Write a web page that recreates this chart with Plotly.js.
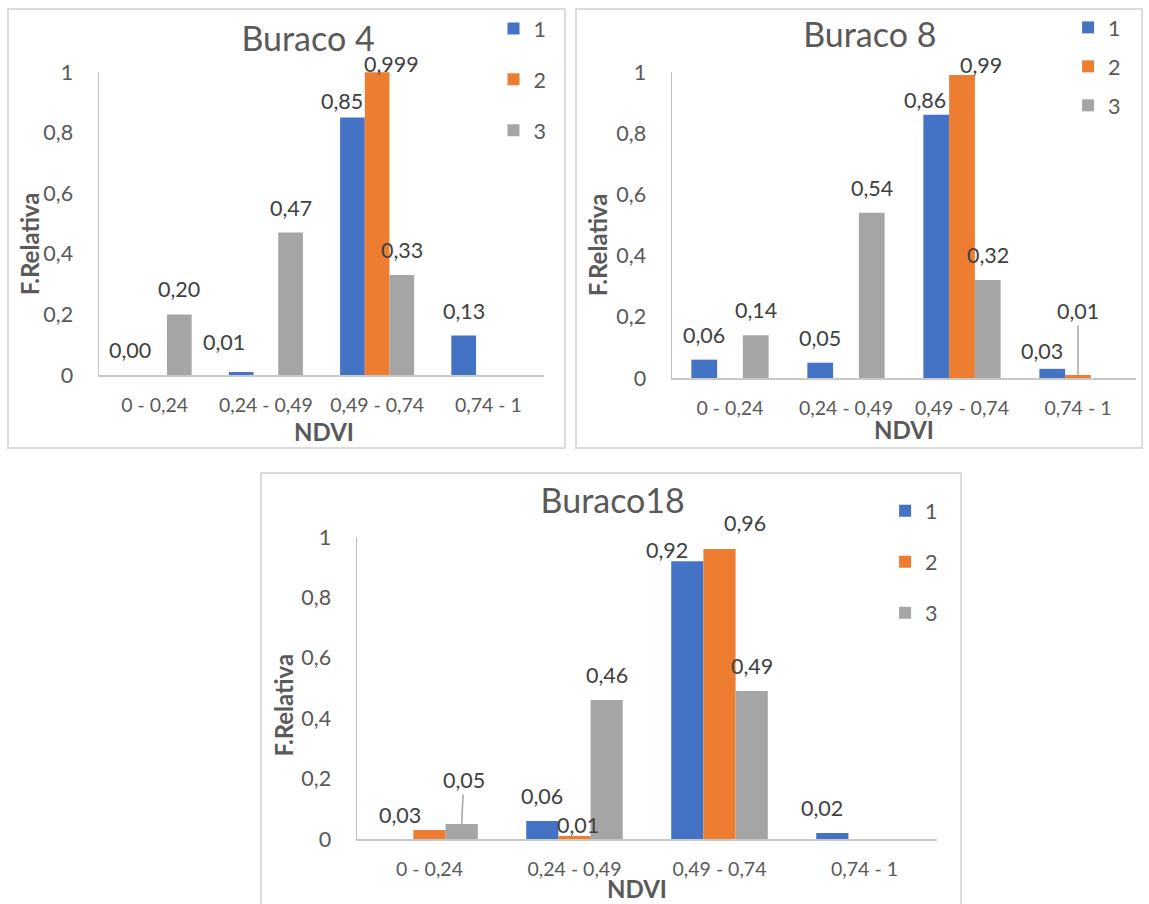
<!DOCTYPE html>
<html><head><meta charset="utf-8">
<script src="https://cdn.plot.ly/plotly-3.0.1.min.js"></script>
<style>
html,body{margin:0;padding:0;background:#fff;width:1149px;height:904px;overflow:hidden;position:relative}
.chart{position:absolute}
.frame{position:absolute;border:2px solid #dcdcdc;box-sizing:border-box;pointer-events:none}
</style></head><body>
<div id="c1" class="chart"></div>
<div id="c2" class="chart"></div>
<div id="c3" class="chart"></div>
<script>
// ---- data ----
const categories = ['0 - 0,24', '0,24 - 0,49', '0,49 - 0,74', '0,74 - 1'];
const seriesNames = ['1', '2', '3'];
const yTickValues = [0, 0.2, 0.4, 0.6, 0.8, 1];

const buraco4_s1 = [0.00, 0.01, 0.85, 0.13];
const buraco4_s2 = [null, null, 0.999, null];
const buraco4_s3 = [0.20, 0.47, 0.33, null];

const buraco8_s1 = [0.06, 0.05, 0.86, 0.03];
const buraco8_s2 = [null, null, 0.99, 0.01];
const buraco8_s3 = [0.14, 0.54, 0.32, null];

const buraco18_s1 = [null, 0.06, 0.92, 0.02];
const buraco18_s2 = [0.03, 0.01, 0.96, null];
const buraco18_s3 = [0.05, 0.46, 0.49, null];

// ---- style ----
const colors = ['#4472C4', '#ED7D31', '#A5A5A5'];
const FONT = 'Lato, "Open Sans", sans-serif';
const TXT = '#595959';
const LBL = '#404040';
const BARGAP = 0.334;

const panels = [
  { id: 'c1', title: 'Buraco 4', series: [buraco4_s1, buraco4_s2, buraco4_s3],
    box: {left: 7, top: 8, w: 559, h: 441}, plot: {l: 99, r: 544, t: 72, b: 374.6},
    titlePos: [308, 39.5], yTitlePos: [29, 244], xTitlePos: [323.8, 431],
    legend: {mx: 514.5, y0: 30, gap: 20},
    nudges: {'0,1': [-17, 30], '0,2': [-10, 16], '1,2': [14.5, 8]}, leaders: {} },
  { id: 'c2', title: 'Buraco 8', series: [buraco8_s1, buraco8_s2, buraco8_s3],
    box: {left: 575, top: 8, w: 568, h: 441}, plot: {l: 671.5, r: 1136, t: 71.7, b: 378.3},
    titlePos: [869.8, 35], yTitlePos: [597.7, 245], xTitlePos: [904.2, 430],
    legend: {mx: 1089, y0: 28.5, gap: 8},
    nudges: {'0,2': [-11, 14.5], '1,2': [19, 9.7], '0,3': [-10.7, 17.4], '1,3': [0, 64]},
    leaders: {'1,3': true} },
  { id: 'c3', title: 'Buraco18', series: [buraco18_s1, buraco18_s2, buraco18_s3],
    box: {left: 260, top: 472, w: 702, h: 440}, plot: {l: 356.9, r: 936.9, t: 537.3, b: 839},
    titlePos: [612.7, 500.7], yTitlePos: [283.6, 705], xTitlePos: [637, 888],
    legend: {mx: 906, y0: 512.7, gap: 20},
    nudges: {'1,0': [-30, 15], '2,0': [2, 44], '1,1': [3, 11], '0,2': [-20, 11], '1,2': [25, 26], '0,3': [-10, 25]},
    leaders: {'2,0': true} }
];

function fmt(v) {
  let s = v.toFixed(3);
  if (s.endsWith('0')) s = s.slice(0, -1);
  return s.replace('.', ',');
}

panels.forEach(p => {
  const el = document.getElementById(p.id);
  el.style.left = p.box.left + 'px';
  el.style.top = p.box.top + 'px';
  el.style.width = p.box.w + 'px';
  el.style.height = p.box.h + 'px';
  const fr = document.createElement('div');
  fr.className = 'frame';
  fr.style.left = p.box.left + 'px';
  fr.style.top = p.box.top + 'px';
  fr.style.width = p.box.w + 'px';
  fr.style.height = p.box.h + 'px';
  document.body.appendChild(fr);

  const pw = p.plot.r - p.plot.l, ph = p.plot.b - p.plot.t;
  const px = X => (X - p.plot.l) / pw;
  const py = Y => (p.plot.b - Y) / ph;
  const bw = (1 - BARGAP) / 3;

  const traces = p.series.map((vals, i) => ({
    type: 'bar', name: seriesNames[i], x: categories, y: vals,
    marker: {color: colors[i], line: {width: 0}},
    legendgroup: 'g' + i, hoverinfo: 'skip'
  }));

  const annotations = [];
  p.series.forEach((vals, i) => {
    vals.forEach((v, j) => {
      if (v === null) return;
      const key = i + ',' + j;
      const n = p.nudges[key] || [0, 25];
      const base = {x: j + (i - 1) * bw, y: v, xref: 'x', yref: 'y', text: fmt(v),
        font: {family: FONT, size: 21.5, color: LBL}};
      if (p.leaders[key]) {
        annotations.push(Object.assign(base, {showarrow: true, arrowhead: 0, arrowwidth: 1.5,
          arrowcolor: '#A6A6A6', ax: n[0], ay: -n[1], standoff: 0}));
      } else {
        annotations.push(Object.assign(base, {showarrow: false, xshift: n[0], yshift: n[1],
          xanchor: 'center', yanchor: 'middle'}));
      }
    });
  });
  annotations.push({xref: 'paper', yref: 'paper', x: px(p.yTitlePos[0]), y: py(p.yTitlePos[1]),
    text: '<b>F.Relativa</b>', textangle: -90, showarrow: false, xanchor: 'center', yanchor: 'middle',
    font: {family: FONT, size: 24, color: TXT}});
  annotations.push({xref: 'paper', yref: 'paper', x: px(p.xTitlePos[0]), y: py(p.xTitlePos[1]),
    text: '<b>NDVI</b>', showarrow: false, xanchor: 'center', yanchor: 'middle',
    font: {family: FONT, size: 24, color: TXT}});

  const layout = {
    width: p.box.w, height: p.box.h,
    margin: {l: p.plot.l - p.box.left, r: p.box.left + p.box.w - p.plot.r,
             t: p.plot.t - p.box.top, b: p.box.top + p.box.h - p.plot.b, pad: 0, autoexpand: false},
    paper_bgcolor: 'rgba(0,0,0,0)', plot_bgcolor: 'rgba(0,0,0,0)',
    separators: ',.',
    font: {family: FONT, color: TXT},
    title: {text: p.title, xref: 'container', yref: 'container',
      x: (p.titlePos[0] - p.box.left) / p.box.w, y: 1 - (p.titlePos[1] - p.box.top) / p.box.h,
      xanchor: 'center', yanchor: 'middle', font: {family: FONT, size: 34, color: TXT}},
    barmode: 'group', bargap: BARGAP, bargroupgap: 0,
    xaxis: {type: 'category', range: [-0.5, 3.5], showline: true, linecolor: '#C8C8C8', linewidth: 1.5,
      showgrid: false, zeroline: false, ticks: '', ticklabelstandoff: 12, automargin: false,
      tickfont: {family: FONT, size: 19.5, color: TXT}, fixedrange: true},
    yaxis: {range: [0, 1], tickvals: yTickValues, showline: true, linecolor: '#BFBFBF', linewidth: 1.5,
      showgrid: false, zeroline: false, ticks: '', ticklabelstandoff: 20, automargin: false,
      tickfont: {family: FONT, size: 21.5, color: TXT}, fixedrange: true},
    showlegend: true,
    legend: {x: px(p.legend.mx - 21), y: py(p.legend.y0 - 22), xanchor: 'left', yanchor: 'top',
      xref: 'paper', yref: 'paper',
      font: {family: FONT, size: 21.5, color: TXT}, tracegroupgap: p.legend.gap,
      bgcolor: 'rgba(0,0,0,0)', borderwidth: 0, traceorder: 'grouped'},
    annotations: annotations
  };
  Plotly.newPlot(el, traces, layout, {displayModeBar: false, staticPlot: true});
});
</script>
</body></html>
